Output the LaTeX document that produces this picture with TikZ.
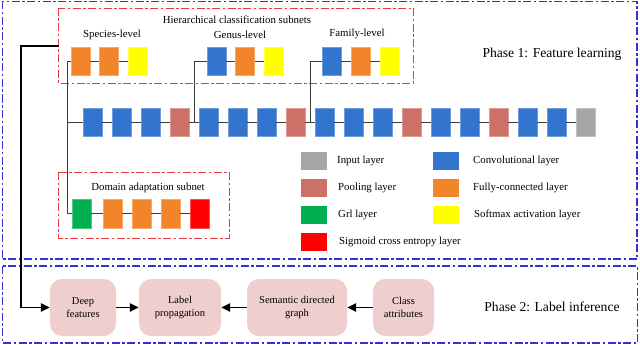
\documentclass[tikz,border=0pt]{standalone}
\usepackage{fontspec}
\setmainfont{Liberation Serif}
\usetikzlibrary{arrows.meta}
\definecolor{cconv}{RGB}{51,117,206}
\definecolor{cpool}{RGB}{205,112,104}
\definecolor{cfc}{RGB}{242,132,41}
\definecolor{cyel}{RGB}{255,255,0}
\definecolor{cin}{RGB}{166,166,166}
\definecolor{cgrl}{RGB}{0,176,80}
\definecolor{cred}{RGB}{255,0,0}
\definecolor{cbox}{RGB}{239,206,206}
\definecolor{cframe}{RGB}{50,50,210}
\definecolor{cdash}{RGB}{230,56,60}
\definecolor{cline}{RGB}{60,60,60}
\tikzset{
  blk/.style={minimum width=19pt,minimum height=28pt,inner sep=0pt,line width=0.6pt},
  conv/.style={blk,fill=cconv,draw=cconv!70!white},
  pool/.style={blk,fill=cpool,draw=cpool!70!white},
  fc/.style={blk,fill=cfc,draw=cfc!70!white},
  yel/.style={blk,fill=cyel,draw=cyel!70!white},
  inp/.style={blk,fill=cin,draw=cin!70!white},
  grl/.style={blk,fill=cgrl,draw=cgrl!70!white},
  sig/.style={blk,fill=cred,draw=cred!70!white},
  leg/.style={minimum width=26pt,minimum height=18pt,inner sep=0pt},
  legtxt/.style={anchor=west,inner sep=0pt,font=\fontsize{10.8}{12}\selectfont},
  conn/.style={draw=cline,line width=0.8pt},
  arr/.style={draw=black,line width=1.4pt,-{Triangle[length=9pt,width=8.5pt]}},
  frame/.style={draw=cframe,line width=1.1pt,dash pattern=on 8pt off 2.5pt on 2.5pt off 2.5pt},
  subframe/.style={draw=cdash,line width=0.9pt,dash pattern=on 8pt off 2.5pt on 2.5pt off 2.5pt},
  pbox/.style={fill=cbox,rounded corners=12pt,minimum height=57pt,inner sep=1pt,align=center,font=\fontsize{10.5}{12.5}\selectfont},
  lbl/.style={inner sep=0pt,font=\fontsize{10.8}{12}\selectfont},
  phase/.style={inner sep=0pt,font=\fontsize{13.6}{15}\selectfont}
}
\begin{document}
\begin{tikzpicture}[x=1pt,y=-1pt]
\useasboundingbox (0,0) rectangle (640,345);
% frames
\draw[frame] (2.5,1.5) rectangle (637,259);
\draw[frame] (2.5,266) rectangle (637.5,343);
\draw[subframe] (58.5,8) rectangle (413,83);
\draw[subframe] (58.5,172) rectangle (229,238);
% labels
\node[lbl] (thier) at (237,20) {Hierarchical classification subnets};
\node[lbl] (tspec) at (112,35) {Species-level};
\node[lbl] (tgen) at (240,35) {Genus-level};
\node[lbl] (tfam) at (357,34) {Family-level};
\node[lbl] (tdom) at (148,188) {Domain adaptation subnet};
\node[phase] (tp1) at (552,54) {Phase 1: Feature learning};
\node[phase] (tp2) at (552,307) {Phase 2: Label inference};
% main chain
\node[conv] (m1) at (92.5,122) {};
\node[conv] (m2) at (121.5,122) {};
\node[conv] (m3) at (150.5,122) {};
\node[pool] (m4) at (179.5,122) {};
\node[conv] (m5) at (208.5,122) {};
\node[conv] (m6) at (237.5,122) {};
\node[conv] (m7) at (266.5,122) {};
\node[pool] (m8) at (295.5,122) {};
\node[conv] (m9) at (324.5,122) {};
\node[conv] (m10) at (353.5,122) {};
\node[conv] (m11) at (382.5,122) {};
\node[pool] (m12) at (411.5,122) {};
\node[conv] (m13) at (440.5,122) {};
\node[conv] (m14) at (469.5,122) {};
\node[pool] (m15) at (498.5,122) {};
\node[conv] (m16) at (527.5,122) {};
\node[conv] (m17) at (556.5,122) {};
\node[inp] (m18) at (585.5,122) {};
% species
\node[fc] (s1) at (80.5,61.5) {};
\node[fc] (s2) at (109,61.5) {};
\node[yel] (s3) at (137.5,61.5) {};
% genus
\node[conv] (g1) at (216.5,61.5) {};
\node[fc] (g2) at (245,61.5) {};
\node[yel] (g3) at (273.5,61.5) {};
% family
\node[conv] (f1) at (331.5,61.5) {};
\node[fc] (f2) at (360.5,61.5) {};
\node[yel] (f3) at (389.5,61.5) {};
% domain
\node[grl,minimum height=29pt] (d1) at (81.5,213.5) {};
\node[fc,minimum height=29pt] (d2) at (112.5,213.5) {};
\node[fc,minimum height=29pt] (d3) at (141.5,213.5) {};
\node[fc,minimum height=29pt] (d4) at (170.5,213.5) {};
\node[sig,minimum height=29pt] (d5) at (199.5,213.5) {};
% connectors
\coordinate (tS) at (67,61.5);
\coordinate (tM) at (67,122);
\coordinate (tD) at (67,213.5);
\coordinate (gB) at (194,122);
\coordinate (fB) at (310,122);
\draw[conn] (s1) -- (tS) -- (tD) -- (d1);
\draw[conn] (tM) -- (m1) -- (m2) -- (m3) -- (m4) -- (m5) -- (m6) -- (m7) -- (m8) -- (m9) -- (m10) -- (m11) -- (m12) -- (m13) -- (m14) -- (m15) -- (m16) -- (m17) -- (m18);
\draw[conn] (s1) -- (s2) -- (s3);
\draw[conn] (gB) |- (g1);
\draw[conn] (g1) -- (g2) -- (g3);
\draw[conn] (fB) |- (f1);
\draw[conn] (f1) -- (f2) -- (f3);
\draw[conn] (d1) -- (d2) -- (d3) -- (d4) -- (d5);
% legend
\node[leg,fill=cin] (l1) at (314,161) {};
\node[leg,fill=cpool] (l2) at (314,188) {};
\node[leg,fill=cgrl] (l3) at (314,215) {};
\node[leg,fill=cred] (l4) at (314,242) {};
\node[leg,fill=cconv] (l5) at (445.5,161) {};
\node[leg,fill=cfc] (l6) at (445.5,188) {};
\node[leg,fill=cyel] (l7) at (445.5,215) {};
\node[legtxt] (lt1) at (337,161) {Input layer};
\node[legtxt] (lt2) at (338,188) {Pooling layer};
\node[legtxt] (lt3) at (338,215) {Grl layer};
\node[legtxt] (lt4) at (339,242) {Sigmoid cross entropy layer};
\node[legtxt] (lt5) at (473,161) {Convolutional layer};
\node[legtxt] (lt6) at (473,188) {Fully-connected layer};
\node[legtxt] (lt7) at (474,215) {Softmax activation layer};
% phase 2
\node[pbox,minimum width=66pt] (deep) at (83,307.5) {Deep\\features};
\node[pbox,minimum width=82pt] (lprop) at (180,307.5) {Label\\propagation};
\node[pbox,minimum width=100pt] (sdg) at (297,307.5) {Semantic directed\\graph};
\node[pbox,minimum width=61pt] (cattr) at (403.5,307.5) {Class\\attributes};
\coordinate (k1) at (58.5,46);
\coordinate (k2) at (21,46);
\draw[arr] (k1) -- (k2) |- (deep);
\draw[arr] (deep) -- (lprop);
\draw[arr] (sdg) -- (lprop);
\draw[arr] (cattr) -- (sdg);
\end{tikzpicture}
\end{document}
